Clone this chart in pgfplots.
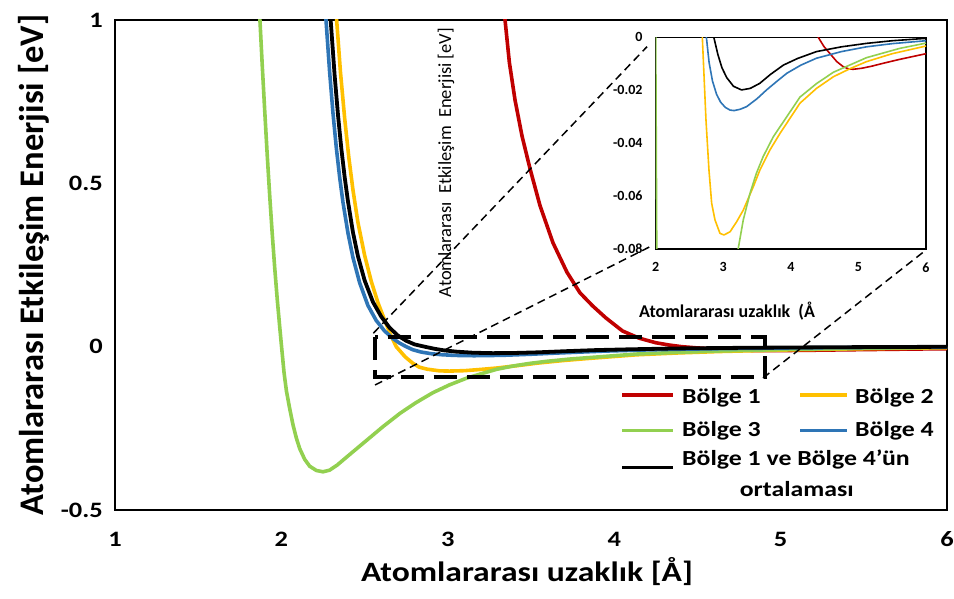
\documentclass[border=0pt]{standalone}
\usepackage{pgfplots}
\pgfplotsset{compat=1.18}
\usepackage{pgfplotstable}
\usepackage{fontspec}
\setmainfont{Carlito}[FakeStretch=1.2]
\newfontfamily\plainfont{Carlito}

\definecolor{bolgeBir}{HTML}{C00000}
\definecolor{bolgeIki}{HTML}{FFC000}
\definecolor{bolgeUc}{HTML}{92D050}
\definecolor{bolgeDort}{HTML}{2E75B6}

% Bölge 1
\pgfplotstableread{
x y
3.335 1.05
3.344 1.0
3.37 0.87
3.404 0.755
3.446 0.645
3.494 0.545
3.554 0.432
3.632 0.318
3.716 0.228
3.794 0.165
3.87 0.125
3.95 0.088
4.05 0.048
4.15 0.026
4.25 0.012
4.33 0.005
4.405 0.0
4.49 -0.0035
4.58 -0.0062
4.68 -0.0092
4.775 -0.0111
4.85 -0.0119
4.92 -0.0121
5.05 -0.0117
5.20 -0.0109
5.37 -0.0098
5.6 -0.0084
5.8 -0.0073
6.0 -0.0062
}\tabBir

% Bölge 2
\pgfplotstableread{
x y
2.325 1.05
2.332 1.0
2.355 0.84
2.38 0.70
2.405 0.58
2.43 0.48
2.46 0.38
2.50 0.28
2.54 0.20
2.58 0.135
2.62 0.082
2.655 0.038
2.69 0.0
2.744 -0.0313
2.788 -0.0501
2.828 -0.0627
2.877 -0.069
2.951 -0.0741
3.01 -0.0747
3.10 -0.0735
3.198 -0.0697
3.296 -0.0653
3.444 -0.0565
3.543 -0.0501
3.69 -0.0426
3.84 -0.0363
4.135 -0.0249
4.38 -0.0193
4.63 -0.0149
4.88 -0.0118
5.12 -0.0092
5.5 -0.0062
6.0 -0.0033
}\tabIki

% Bölge 3
\pgfplotstableread{
x y
1.865 1.05
1.871 1.0
1.885 0.86
1.90 0.72
1.915 0.585
1.93 0.46
1.945 0.345
1.96 0.24
1.975 0.145
1.99 0.06
2.0 0.005
2.016 -0.08
2.03 -0.135
2.05 -0.19
2.07 -0.24
2.09 -0.28
2.11 -0.312
2.14 -0.345
2.17 -0.366
2.21 -0.379
2.25 -0.383
2.29 -0.378
2.334 -0.363
2.42 -0.326
2.514 -0.286
2.61 -0.245
2.713 -0.204
2.81 -0.171
2.91 -0.141
3.01 -0.117
3.115 -0.096
3.22 -0.08
3.296 -0.069
3.395 -0.059
3.49 -0.0514
3.59 -0.0451
3.74 -0.0376
3.94 -0.030
4.135 -0.0226
4.38 -0.0175
4.63 -0.0132
5.12 -0.0077
5.61 -0.0042
6.0 -0.0022
}\tabUc

% Bölge 4
\pgfplotstableread{
x y
2.262 1.05
2.268 1.0
2.29 0.84
2.31 0.715
2.33 0.609
2.35 0.519
2.37 0.442
2.40 0.348
2.43 0.273
2.47 0.196
2.52 0.126
2.57 0.080
2.62 0.048
2.67 0.025
2.71 0.011
2.75 0.0
2.79 -0.0095
2.84 -0.0165
2.90 -0.0215
2.96 -0.0245
3.03 -0.0265
3.10 -0.0275
3.16 -0.0277
3.25 -0.0272
3.346 -0.0262
3.5 -0.0232
3.64 -0.0199
3.80 -0.0165
3.94 -0.0136
4.15 -0.0105
4.38 -0.0079
4.75 -0.0054
5.12 -0.0036
5.5 -0.0024
6.0 -0.0013
}\tabDort

% Bölge 1 ve Bölge 4 ortalaması
\pgfplotstableread{
x y
2.290 1.05
2.296 1.0
2.32 0.83
2.34 0.71
2.36 0.607
2.38 0.52
2.40 0.445
2.43 0.35
2.46 0.277
2.50 0.203
2.55 0.137
2.60 0.092
2.65 0.058
2.70 0.034
2.75 0.018
2.80 0.007
2.86 0.0
2.92 -0.0065
2.98 -0.0115
3.05 -0.0152
3.15 -0.0185
3.27 -0.0199
3.40 -0.0193
3.54 -0.0174
3.70 -0.0140
3.89 -0.0105
4.10 -0.0080
4.38 -0.0054
4.75 -0.0036
5.12 -0.0023
5.5 -0.0013
6.0 -0.0004
}\tabOrt

\begin{document}
\begin{tikzpicture}
\path[use as bounding box] (0,0) rectangle (954bp,599bp);

% main chart
\begin{axis}[
  name=main, at={(115bp,89bp)}, anchor=south west,
  width=832bp, height=490bp, scale only axis,
  xmin=1, xmax=6, ymin=-0.5, ymax=1,
  xtick={1,2,3,4,5,6}, xticklabels={1,2,3,4,5,6},
  ytick={-0.5,0,0.5,1}, yticklabels={-0.5,0,0.5,1},
  scaled ticks=false,
  major tick length=0pt,
  /pgf/number format/assume math mode=true,
  tick label style={font=\fontsize{22bp}{24bp}\selectfont\bfseries},
  xticklabel style={anchor=base, yshift=-36.7bp, inner sep=0pt},
  yticklabel style={anchor=east, xshift=-12bp, inner sep=0pt},
  axis line style={line width=1.3bp, black},
  every axis plot/.append style={line width=3.6bp, line join=round, no markers},
]
\addplot[bolgeBir] table {\tabBir};
\addplot[bolgeIki] table {\tabIki};
\addplot[bolgeUc] table {\tabUc};
\addplot[bolgeDort] table {\tabDort};
\addplot[black, line width=3.8bp] table {\tabOrt};
\end{axis}

% zoomed view of the well region
\begin{axis}[
  name=inset, at={(655.7bp,350bp)}, anchor=south west,
  width=270.3bp, height=211.7bp, scale only axis,
  xmin=2, xmax=6, ymin=-0.08, ymax=0,
  xtick={2,3,4,5,6}, xticklabels={2,3,4,5,6},
  ytick={-0.08,-0.06,-0.04,-0.02,0},
  yticklabels={-0.08,-0.06,-0.04,-0.02,0},
  scaled ticks=false,
  major tick length=0pt,
  /pgf/number format/assume math mode=true,
  tick label style={font=\plainfont\fontsize{14bp}{16bp}\selectfont\bfseries},
  xticklabel style={anchor=north, yshift=-13.5bp, inner sep=0pt},
  yticklabel style={anchor=east, xshift=-13bp, inner sep=0pt},
  axis background/.style={fill=white},
  axis line style={line width=1.1bp, black},
  every axis plot/.append style={line width=1.6bp, line join=round, no markers},
]
\addplot[bolgeBir] table {\tabBir};
\addplot[bolgeIki] table {\tabIki};
\addplot[bolgeUc] table {\tabUc};
\addplot[bolgeDort] table {\tabDort};
\addplot[black] table {\tabOrt};
\end{axis}

% axis titles
\node[rotate=90, anchor=base, inner sep=0pt,
      font=\plainfont\fontsize{34.5bp}{37bp}\selectfont\bfseries]
  at (43bp,334bp) {Atomlararası Etkileşim Enerjisi [eV]};
\node[anchor=base, inner sep=0pt, font=\fontsize{28bp}{30bp}\selectfont\bfseries]
  at (527bp,17.3bp) {Atomlararası uzaklık [Å]};
\node[anchor=base west, inner sep=0pt,
      font=\plainfont\fontsize{18bp}{20bp}\selectfont\bfseries]
  at (639bp,281bp) {Atomlararası uzaklık\ \ (Å};
\node[rotate=90, anchor=base, inner sep=0pt,
      font=\plainfont\fontsize{18.5bp}{20bp}\selectfont]
  at (451bp,436.5bp) {Atomlararası\ \ Etkileşim\ \ Enerjisi [eV]};

% zoom frame and guide lines
\draw[black, line width=4bp, dash pattern=on 23bp off 10bp]
  (375bp,262bp) rectangle (765bp,221.5bp);
\draw[black, line width=1.5bp, dash pattern=on 8bp off 5bp]
  (373.3bp,265.7bp) -- (647bp,552.3bp);
\draw[black, line width=1.5bp, dash pattern=on 8bp off 5bp]
  (375bp,214bp) -- (650bp,352.3bp);
\draw[black, line width=1.5bp, dash pattern=on 8bp off 5bp]
  (763bp,221bp) -- (926bp,349bp);

% legend
\begin{scope}[every node/.style={anchor=base west, inner sep=0pt,
    font=\fontsize{21.5bp}{24bp}\selectfont\bfseries}]
\draw[bolgeBir, line width=3.5bp] (622bp,204bp) -- (673bp,204bp);
\node at (682bp,195.7bp) {Bölge 1};
\draw[bolgeIki, line width=3.5bp] (800bp,204bp) -- (847bp,204bp);
\node at (855bp,195.7bp) {Bölge 2};
\draw[bolgeUc, line width=3.5bp] (622bp,168.3bp) -- (673bp,168.3bp);
\node at (682bp,162.3bp) {Bölge 3};
\draw[bolgeDort, line width=3.5bp] (800bp,168.3bp) -- (847bp,168.3bp);
\node at (855bp,162.3bp) {Bölge 4};
\draw[black, line width=3.5bp] (622bp,131.7bp) -- (673bp,131.7bp);
\node at (682bp,133.3bp) {Bölge 1 ve Bölge 4’ün};
\node[anchor=base] at (796.7bp,102bp) {ortalaması};
\end{scope}
\end{tikzpicture}
\end{document}
